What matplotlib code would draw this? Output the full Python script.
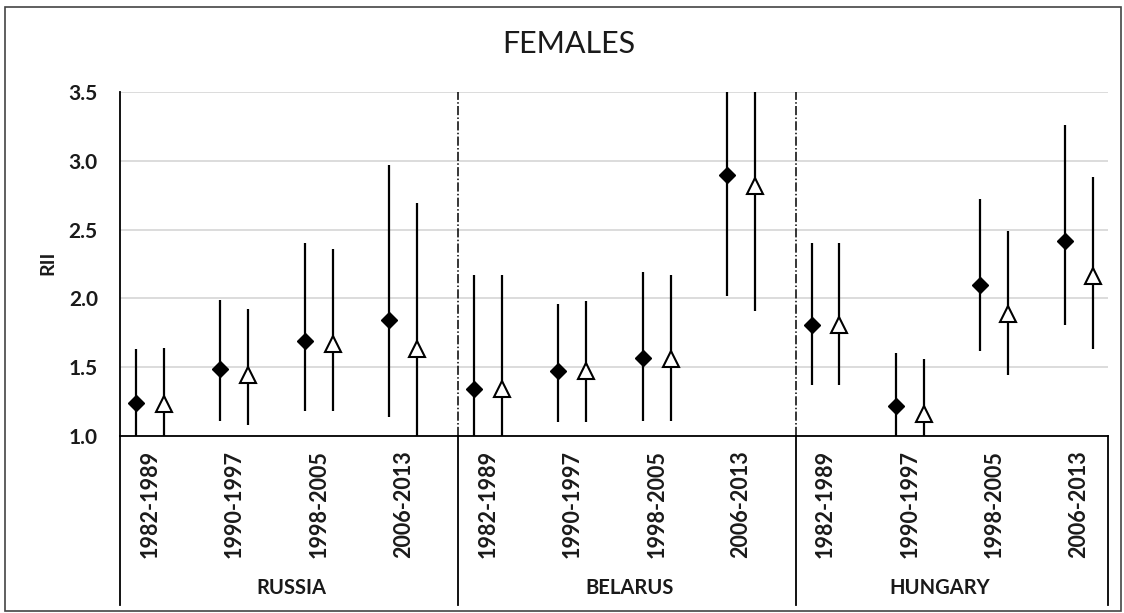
import matplotlib.pyplot as plt
import matplotlib.transforms as mtransforms
from matplotlib.patches import Rectangle

plt.rcParams['font.family'] = ['Lato', 'DejaVu Sans']

# datos
paises = ['RUSSIA', 'BELARUS', 'HUNGARY']
periodos = ['1982-1989', '1990-1997', '1998-2005', '2006-2013']

# serie 1 (rombos negros)
rii_1 = [1.24, 1.49, 1.69, 1.84, 1.34, 1.47, 1.57, 2.90, 1.81, 1.22, 2.10, 2.42]
inf_1 = [0.97, 1.11, 1.18, 1.14, 0.97, 1.10, 1.11, 2.02, 1.37, 0.97, 1.62, 1.81]
sup_1 = [1.63, 1.99, 2.40, 2.97, 2.17, 1.96, 2.19, 3.90, 2.40, 1.60, 2.72, 3.26]

# serie 2 (triangulos blancos)
rii_2 = [1.23, 1.44, 1.67, 1.63, 1.34, 1.47, 1.56, 2.82, 1.81, 1.16, 1.89, 2.16]
inf_2 = [0.97, 1.08, 1.18, 0.95, 0.97, 1.10, 1.11, 1.91, 1.37, 0.97, 1.44, 1.63]
sup_2 = [1.64, 1.92, 2.36, 2.69, 2.17, 1.98, 2.17, 3.70, 2.40, 1.56, 2.49, 2.88]

# posiciones en x: cada pais ocupa 4 casillas
n = len(periodos)
base = [g * n + k for g in range(len(paises)) for k in range(n)]
x1 = [b + 0.19 for b in base]
x2 = [b + 0.52 for b in base]
xt = [b + 0.355 for b in base]
xmax = 11.7

fig = plt.figure(figsize=(11.24, 6.13), dpi=100)
ax = fig.add_axes([120 / 1124, 1 - 436 / 613, (1108 - 120) / 1124, (436 - 92) / 613])

# marco exterior
fig.patches.append(Rectangle((5 / 1124, 2 / 613), 1116 / 1124, 604 / 613,
                             transform=fig.transFigure, fill=False,
                             edgecolor='#444444', lw=1.2))

ax.set_xlim(0, xmax)
ax.set_ylim(1.0, 3.5)
ax.set_yticks([1.0, 1.5, 2.0, 2.5, 3.0, 3.5])
ax.set_yticklabels(['1.0', '1.5', '2.0', '2.5', '3.0', '3.5'], fontsize=15,
                   fontweight='bold', color='#1a1a1a')
ax.yaxis.grid(True, color='#d9d9d9', lw=1.3)
ax.set_axisbelow(True)
ax.tick_params(axis='y', length=0, pad=16)

ax.set_xticks(xt)
ax.set_xticklabels(periodos * len(paises), rotation=90, fontsize=15.5,
                   fontweight='bold', color='#1a1a1a')
ax.tick_params(axis='x', length=0, pad=10)

for s in ['top', 'right']:
    ax.spines[s].set_visible(False)
ax.spines['left'].set_linewidth(1.3)
ax.spines['bottom'].set_linewidth(1.3)

# separadores entre paises
for g in range(1, len(paises)):
    ax.axvline(g * n, color='black', lw=1.1, ls='-.', dashes=(6, 1.5, 1, 1.5))

# lineas verticales debajo del eje
trans = mtransforms.blended_transform_factory(ax.transData, ax.transAxes)
for xv in [0, 4, 8, xmax]:
    ax.plot([xv, xv], [0, -0.49], transform=trans, color='black', lw=1.3, clip_on=False)

# nombres de pais
pos_pais = [2.03, 6.03, 9.71]
for p, xp in zip(paises, pos_pais):
    ax.text(xp, -0.443, p, transform=trans, ha='center', va='center',
            fontsize=14.5, fontweight='bold', color='#1a1a1a')

# intervalos
ax.vlines(x1, inf_1, sup_1, color='black', lw=1.6, zorder=2)
ax.vlines(x2, inf_2, sup_2, color='black', lw=1.6, zorder=2)
ax.plot(x1, rii_1, 'D', color='black', markersize=8, ls='none', zorder=3, clip_on=False)
ax.plot(x2, rii_2, '^', markerfacecolor='white', markeredgecolor='black',
        markeredgewidth=1.5, markersize=11, ls='none', zorder=3, clip_on=False)

fig.text(48 / 1124, 1 - 263 / 613, 'RII', rotation=90, ha='center', va='center',
         fontsize=14, fontweight='bold', color='#1a1a1a')
fig.text(569 / 1124, 1 - 44 / 613, 'FEMALES', ha='center', va='center',
         fontsize=22, color='#1a1a1a')

fig.savefig('out.png', dpi=100)
